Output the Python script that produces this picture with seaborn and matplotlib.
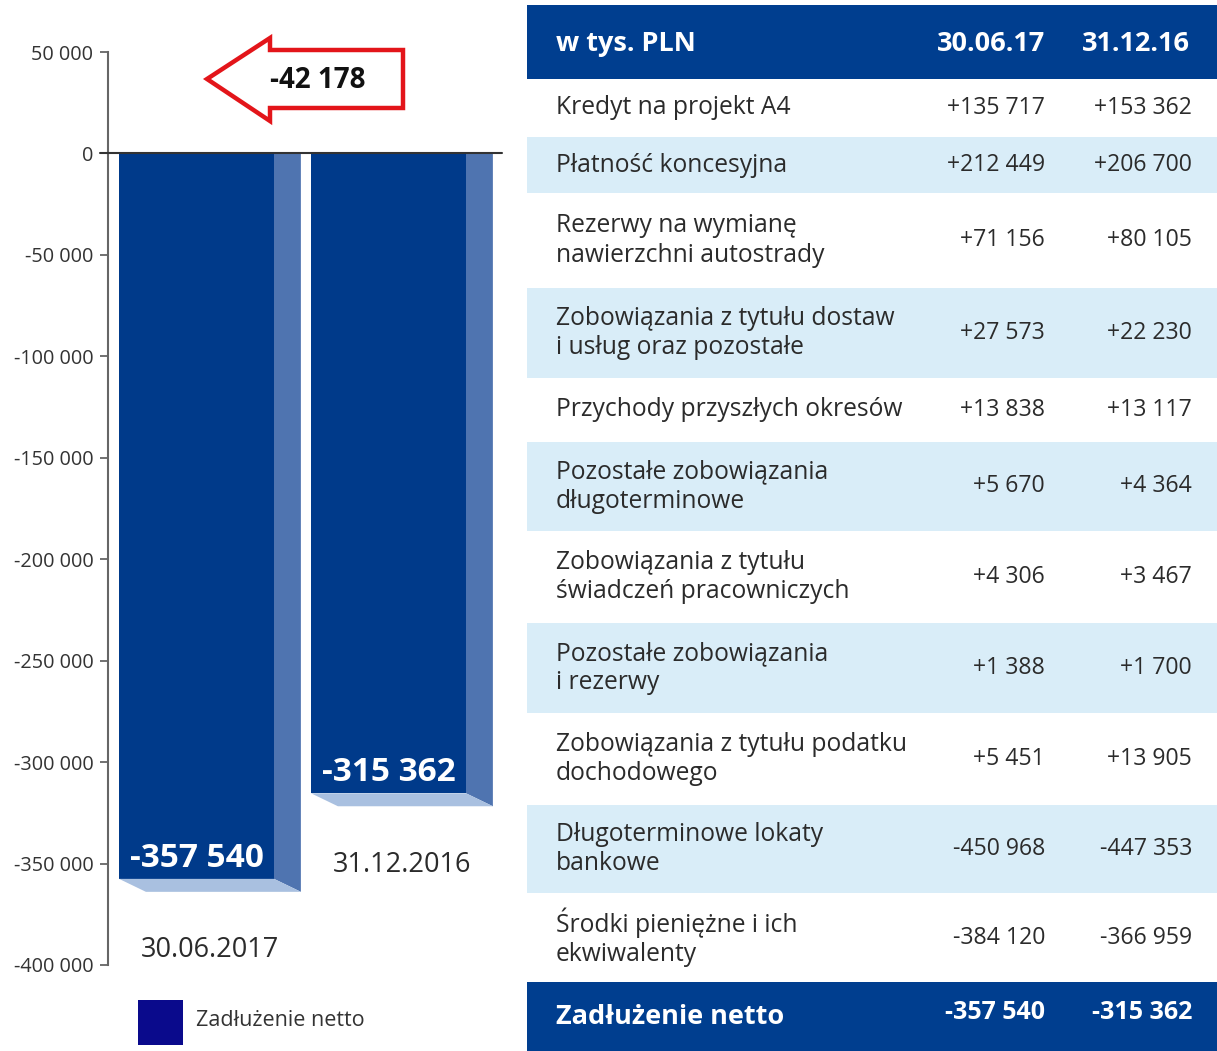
import numpy as np
import matplotlib
matplotlib.use("Agg")
import matplotlib.pyplot as plt
from matplotlib.patches import Polygon, Rectangle
import seaborn as sns

# --- data -------------------------------------------------------------
dates = ["30.06.2017", "31.12.2016"]
net_debt = [-357540, -315362]

col_headers = ["30.06.17", "31.12.16"]
row_labels = [
    "Kredyt na projekt A4",
    "Płatność koncesyjna",
    "Rezerwy na wymianę\nnawierzchni autostrady",
    "Zobowiązania z tytułu dostaw\ni usług oraz pozostałe",
    "Przychody przyszłych okresów",
    "Pozostałe zobowiązania\ndługoterminowe",
    "Zobowiązania z tytułu\nświadczeń pracowniczych",
    "Pozostałe zobowiązania\ni rezerwy",
    "Zobowiązania z tytułu podatku\ndochodowego",
    "Długoterminowe lokaty\nbankowe",
    "Środki pieniężne i ich\nekwiwalenty",
]
vals_2017 = [135717, 212449, 71156, 27573, 13838, 5670, 4306, 1388, 5451, -450968, -384120]
vals_2016 = [153362, 206700, 80105, 22230, 13117, 4364, 3467, 1700, 13905, -447353, -366959]
y_ticks = [50000, 0, -50000, -100000, -150000, -200000, -250000, -300000, -350000, -400000]


def fmt(v, sign=False):
    s = f"{abs(v):,}".replace(",", " ")
    if v < 0:
        return "-" + s
    return ("+" + s) if sign else s


# --- style ------------------------------------------------------------
sns.set_style("white")
plt.rcParams["font.family"] = ["Open Sans", "DejaVu Sans"]

W, H = 1217, 1051
FRONT = "#003a8a"
SIDE = "#4f74b0"
BOTTOM = "#a9c0e0"
HEAD = "#003e8f"
LIGHT = "#d9edf8"
TXT = "#2b2b2b"

fig = plt.figure(figsize=(W / 100, H / 100), dpi=100)
fig.patch.set_facecolor("white")

# --- bar chart --------------------------------------------------------
ax = fig.add_axes([108 / W, (H - 965) / H, 394 / W, 913 / H])
sns.barplot(x=dates, y=net_debt, ax=ax, color=FRONT, saturation=1,
            width=0.807, linewidth=0, zorder=2)
ax.set_xlim(-0.461, 1.591)
ax.set_ylim(-400000, 50000)
ax.set_yticks(y_ticks)
ax.set_yticklabels([fmt(t) for t in y_ticks], fontsize=14.3, color="#333333")
ax.set_xticks([])
ax.set_xlabel("")
for s in ["top", "right", "bottom"]:
    ax.spines[s].set_visible(False)
ax.spines["left"].set_color("#666666")
ax.spines["left"].set_linewidth(1.5)
ax.tick_params(axis="y", direction="out", length=6, width=1.3, color="#666666", pad=4.5, left=True)
ax.axhline(0, color="#333333", lw=1.5, zorder=5, xmin=-0.02, clip_on=False)

dx = 0.14       # side-face depth in category units
dy = 6400       # bottom-face depth in data units
for p, v, d in zip(ax.patches, net_debt, dates):
    x0 = p.get_x()
    x1 = x0 + p.get_width()
    yb = p.get_y() + p.get_height()
    ax.add_patch(Polygon([(x1, 0), (x1 + dx, 0), (x1 + dx, yb - dy), (x1, yb)],
                         closed=True, fc=SIDE, ec="none", zorder=2))
    ax.add_patch(Polygon([(x0, yb), (x1, yb), (x1 + dx, yb - dy), (x0 + dx, yb - dy)],
                         closed=True, fc=BOTTOM, ec="none", zorder=2))
    ax.annotate(fmt(v), ((x0 + x1) / 2, yb), xytext=(0, 15), textcoords="offset points",
                ha="center", va="center", color="white", fontsize=24, fontweight="bold")
    ax.annotate(d, ((x0 + x1 + dx) / 2, yb - dy), xytext=(0, -42), textcoords="offset points",
                ha="center", va="center", color=TXT, fontsize=19.5)

# --- overlay: change arrow and legend ----------------------------------
ov = fig.add_axes([0, 0, 1, 1])
ov.set_xlim(0, W)
ov.set_ylim(H, 0)
ov.axis("off")
ov.patch.set_alpha(0)
arrow = [(207, 79), (270, 38), (270, 50), (403, 50), (403, 108), (270, 108), (270, 121)]
ov.add_patch(Polygon(arrow, closed=True, fc="white", ec="#e3151a", lw=3.2, joinstyle="miter"))
ov.text(318, 80, fmt(net_debt[0] - net_debt[1]), ha="center", va="center",
        fontsize=20, fontweight="bold", color="#111111")
ov.add_patch(Rectangle((138, 1000), 45, 45, fc="#0a0a8c", ec="none"))
ov.text(196, 1021, "Zadłużenie netto", ha="left", va="center", fontsize=15.5, color="#333333")

# --- table ------------------------------------------------------------
tb = fig.add_axes([527 / W, 0, (W - 527) / W, (H - 5) / H])
tb.set_xlim(527, W)
tb.set_ylim(H, 5)
tb.axis("off")

row_h = [58, 56, 95, 90, 64, 89, 92, 90, 92, 88, 89]
x_lab, x_c1, x_c2 = 556, 1045, 1192

tb.axhspan(5, 79, color=HEAD, lw=0)
tb.text(x_lab, 44, "w tys. PLN", ha="left", va="center", color="white", fontsize=19.5, fontweight="bold")
tb.text(x_c1, 44, col_headers[0], ha="right", va="center", color="white", fontsize=19.5, fontweight="bold")
tb.text(x_c2 - 2, 44, col_headers[1], ha="right", va="center", color="white", fontsize=19.5, fontweight="bold")

y = 79
for i, (lab, a, b) in enumerate(zip(row_labels, vals_2017, vals_2016)):
    h = row_h[i]
    if i % 2 == 1:
        tb.axhspan(y, y + h, color=LIGHT, lw=0)
    yc = y + h / 2
    tb.text(x_lab, yc, lab, ha="left", va="center", color=TXT, fontsize=17.7, linespacing=1.22)
    tb.text(x_c1, yc, fmt(a, sign=True), ha="right", va="center", color=TXT, fontsize=16.6)
    tb.text(x_c2, yc, fmt(b, sign=True), ha="right", va="center", color=TXT, fontsize=16.6)
    y += h

tb.axhspan(y, H, color=HEAD, lw=0)
yc = (y + H) / 2
tb.text(x_lab, yc, "Zadłużenie netto", ha="left", va="center", color="white", fontsize=19.5, fontweight="bold")
tb.text(x_c1, yc - 4, fmt(sum(vals_2017)), ha="right", va="center", color="white", fontsize=18, fontweight="bold")
tb.text(x_c2, yc - 4, fmt(sum(vals_2016)), ha="right", va="center", color="white", fontsize=18, fontweight="bold")

fig.savefig("out.png", dpi=100, facecolor="white")
